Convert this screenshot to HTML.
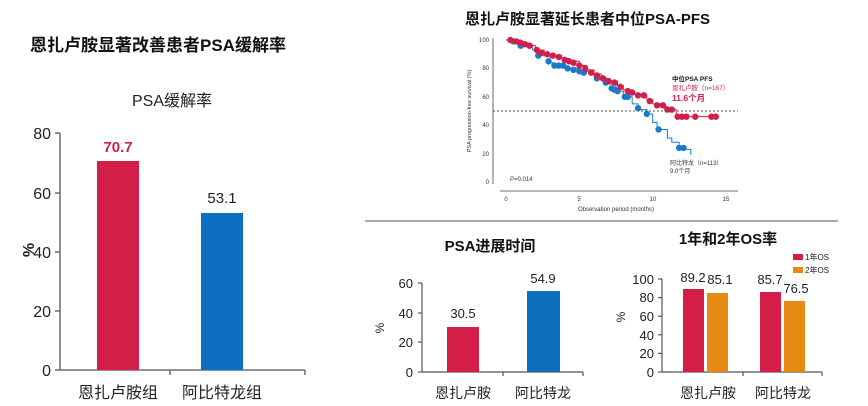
<!DOCTYPE html>
<html><head><meta charset="utf-8"><style>
html,body{margin:0;padding:0;background:#fff;}
svg{display:block;font-family:"Liberation Sans","Noto Sans CJK SC",sans-serif;}
</style></head><body>
<svg id="s" width="868" height="406" viewBox="0 0 868 406" xmlns="http://www.w3.org/2000/svg">
<rect width="868" height="406" fill="#fff"/>
<text x="30" y="51" font-size="17" font-weight="bold" fill="#111">恩扎卢胺显著改善患者PSA缓解率</text>
<text x="172" y="106" font-size="16" fill="#222" text-anchor="middle">PSA缓解率</text>
<g stroke="#555" stroke-width="1.3">
<line x1="60" y1="133" x2="60" y2="370"/><line x1="60" y1="370" x2="305" y2="370"/>
<line x1="55" y1="133" x2="60" y2="133"/><line x1="55" y1="193" x2="60" y2="193"/><line x1="55" y1="252" x2="60" y2="252"/><line x1="55" y1="311" x2="60" y2="311"/><line x1="55" y1="370" x2="60" y2="370"/>
<line x1="170" y1="370" x2="170" y2="375"/><line x1="305" y1="370" x2="305" y2="375"/>
</g>
<g font-size="16" fill="#222" text-anchor="end">
<text x="51" y="139">80</text><text x="51" y="199">60</text><text x="51" y="258">40</text><text x="51" y="317">20</text><text x="51" y="376">0</text>
</g>
<text transform="translate(34,250) rotate(-90)" font-size="16" font-weight="bold" fill="#222" text-anchor="middle">%</text>
<rect x="97" y="161" width="42" height="209" fill="#d31f48"/>
<rect x="201" y="213" width="42" height="157" fill="#0c6fc0"/>
<text x="118" y="152" font-size="15" font-weight="bold" fill="#d31f48" text-anchor="middle">70.7</text>
<text x="222" y="203" font-size="15" fill="#222" text-anchor="middle">53.1</text>
<text x="118" y="398" font-size="16" fill="#222" text-anchor="middle">恩扎卢胺组</text>
<text x="222" y="398" font-size="16" fill="#222" text-anchor="middle">阿比特龙组</text>

<text x="465" y="24" font-size="15" font-weight="bold" fill="#111">恩扎卢胺显著延长患者中位PSA-PFS</text>
<g stroke="#444" stroke-width="0.8">
<line x1="493" y1="38" x2="493" y2="184"/><line x1="500" y1="191" x2="738" y2="191"/>
</g>
<g id="km"></g>
<line x1="493" y1="111" x2="738" y2="111" stroke="#555" stroke-width="0.9" stroke-dasharray="2,2"/>
<g font-size="6" fill="#333" text-anchor="end">
<text x="489" y="42">100</text><text x="489" y="70">80</text><text x="489" y="99">60</text><text x="489" y="127">40</text><text x="489" y="156">20</text><text x="489" y="184">0</text>
</g>
<g font-size="6" fill="#333" text-anchor="middle">
<text x="506" y="201">0</text><text x="579" y="201">5</text><text x="653" y="201">10</text><text x="726" y="201">15</text>
<text x="616" y="211">Observation period (months)</text>
</g>
<text transform="translate(471,111) rotate(-90)" font-size="5.5" fill="#333" text-anchor="middle">PSA progression-free survival (%)</text>
<text x="510" y="181" font-size="6" fill="#333">P=0.014</text>
<text x="672" y="81" font-size="6.5" font-weight="bold" fill="#111">中位PSA PFS</text>
<text x="672" y="90" font-size="6.5" fill="#d31f48">恩扎卢胺（n=167）</text>
<text x="672" y="101" font-size="8.5" font-weight="bold" fill="#d31f48">11.6个月</text>
<text x="670" y="165" font-size="6" fill="#333">阿比特龙（n=113）</text>
<text x="670" y="173" font-size="6" fill="#333">9.0个月</text>

<line x1="365" y1="221" x2="838" y2="221" stroke="#555" stroke-width="1"/>

<text x="490" y="251" font-size="15" font-weight="bold" fill="#111" text-anchor="middle">PSA进展时间</text>
<g stroke="#555" stroke-width="1.2">
<line x1="422" y1="283" x2="422" y2="372"/><line x1="422" y1="372" x2="583" y2="372"/>
<line x1="418" y1="283" x2="422" y2="283"/><line x1="418" y1="313" x2="422" y2="313"/><line x1="418" y1="342" x2="422" y2="342"/><line x1="418" y1="372" x2="422" y2="372"/>
<line x1="503" y1="372" x2="503" y2="376"/><line x1="583" y1="372" x2="583" y2="376"/>
</g>
<g font-size="13" fill="#222" text-anchor="end">
<text x="413" y="288">60</text><text x="413" y="318">40</text><text x="413" y="347">20</text><text x="413" y="377">0</text>
</g>
<text transform="translate(384,328) rotate(-90)" font-size="12" fill="#222" text-anchor="middle">%</text>
<rect x="447" y="327" width="32" height="45" fill="#d31f48"/>
<rect x="527" y="291" width="33" height="81" fill="#0c6fc0"/>
<text x="463" y="318" font-size="13" fill="#222" text-anchor="middle">30.5</text>
<text x="543" y="283" font-size="13" fill="#222" text-anchor="middle">54.9</text>
<text x="463" y="398" font-size="14" fill="#222" text-anchor="middle">恩扎卢胺</text>
<text x="543" y="398" font-size="14" fill="#222" text-anchor="middle">阿比特龙</text>

<text x="728" y="244" font-size="15" font-weight="bold" fill="#111" text-anchor="middle">1年和2年OS率</text>
<rect x="793" y="254" width="10" height="6" fill="#d31f48"/><text x="805" y="260" font-size="8" fill="#222">1年OS</text>
<rect x="793" y="267" width="10" height="6" fill="#e68a14"/><text x="805" y="273" font-size="8" fill="#222">2年OS</text>
<g stroke="#555" stroke-width="1.2">
<line x1="662" y1="279" x2="662" y2="372"/><line x1="662" y1="372" x2="822" y2="372"/>
<line x1="658" y1="279" x2="662" y2="279"/><line x1="658" y1="297.6" x2="662" y2="297.6"/><line x1="658" y1="316.2" x2="662" y2="316.2"/><line x1="658" y1="334.8" x2="662" y2="334.8"/><line x1="658" y1="353.4" x2="662" y2="353.4"/><line x1="658" y1="372" x2="662" y2="372"/>
<line x1="743" y1="372" x2="743" y2="376"/><line x1="822" y1="372" x2="822" y2="376"/>
</g>
<g font-size="13" fill="#222" text-anchor="end">
<text x="654" y="284">100</text><text x="654" y="302">80</text><text x="654" y="321">60</text><text x="654" y="340">40</text><text x="654" y="358">20</text><text x="654" y="377">0</text>
</g>
<text transform="translate(625,317) rotate(-90)" font-size="12" fill="#222" text-anchor="middle">%</text>
<rect x="683" y="289" width="21" height="83" fill="#d31f48"/>
<rect x="707" y="293" width="21" height="79" fill="#e68a14"/>
<rect x="760" y="292" width="21" height="80" fill="#d31f48"/>
<rect x="784" y="301" width="21" height="71" fill="#e68a14"/>
<text x="693" y="282" font-size="13" fill="#222" text-anchor="middle">89.2</text>
<text x="720" y="284" font-size="13" fill="#222" text-anchor="middle">85.1</text>
<text x="770" y="284" font-size="13" fill="#222" text-anchor="middle">85.7</text>
<text x="796" y="293" font-size="13" fill="#222" text-anchor="middle">76.5</text>
<text x="708" y="398" font-size="14" fill="#222" text-anchor="middle">恩扎卢胺</text>
<text x="783" y="398" font-size="14" fill="#222" text-anchor="middle">阿比特龙</text>
</svg>
<script>
(function(){
var g=document.getElementById('km'),NS='http://www.w3.org/2000/svg';
function X(m){return 506+m*14.67;}function Y(s){return 182-s*1.42;}
function curve(pts,col,marks){
 var d='M'+X(pts[0][0])+' '+Y(pts[0][1]);
 for(var i=1;i<pts.length;i++){d+=' H'+X(pts[i][0])+' V'+Y(pts[i][1]);}
 var p=document.createElementNS(NS,'path');p.setAttribute('d',d);p.setAttribute('fill','none');p.setAttribute('stroke',col);p.setAttribute('stroke-width','1');g.appendChild(p);
 marks.forEach(function(m){var c=document.createElementNS(NS,'circle');c.setAttribute('cx',X(m[0]));c.setAttribute('cy',Y(m[1]));c.setAttribute('r','3.2');c.setAttribute('fill',col);g.appendChild(c);});
}
var blue=[[0,100],[0.8,97],[1.8,93],[2.2,89],[3,84],[3.2,82],[4,80],[5,78],[6,74],[6.8,69],[7.5,64],[8,60],[8.6,55],[9,51],[9.6,48],[10,42],[10.3,37],[11,31],[11.3,28],[11.8,23],[12.6,19]];
var bm=[[0.5,99],[1,96],[2.2,89],[2.9,85],[3.3,82],[3.6,82],[3.9,82],[4.2,80],[4.6,79],[5,78],[5.3,77],[6.2,73],[6.8,70],[7.2,66],[7.4,65],[7.6,64],[8.1,60],[8.3,60],[9,52],[9.6,48],[10.4,37],[11.8,24],[12.1,24]];
curve(blue,'#1a7ac9',bm);
var red=[[0,100],[1,98],[1.5,96],[2,93],[2.6,90],[3,89],[3.8,87],[4.3,85],[5,82],[5.5,79],[6,76],[6.5,73],[7,71],[7.6,68],[8,65],[8.6,62],[9.2,61],[9.6,58],[10,55],[10.6,53],[11,51],[11.6,46],[14.5,46]];
var rm=[[0.3,100],[0.7,99],[1,98],[1.3,97],[1.6,96],[2.1,93],[2.4,91],[2.8,90],[3.2,89],[3.6,88],[4,86],[4.3,85],[4.6,84],[5,82],[5.4,80],[5.8,77],[6.2,75],[6.6,73],[7,71],[7.4,70],[7.8,67],[8.3,64],[8.6,63],[9,61],[9.4,61],[9.8,57],[10.3,54],[10.7,54],[11,51],[11.3,51],[11.7,46],[12,46],[12.3,46],[12.9,46],[14,46],[14.3,46]];
curve(red,'#d31f48',rm);
})();
</script>
</body></html>
